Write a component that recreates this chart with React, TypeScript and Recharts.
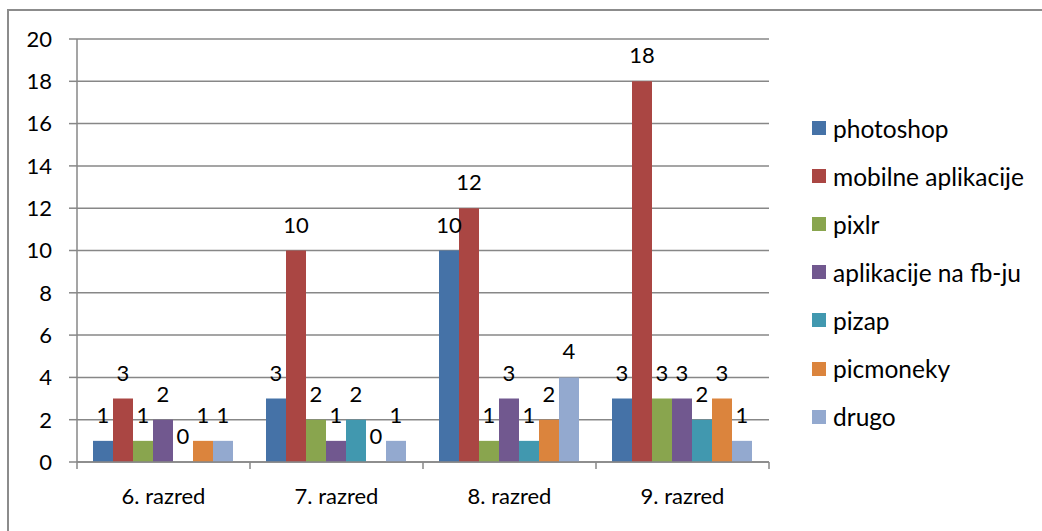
import { BarChart, Bar, XAxis, YAxis, CartesianGrid, Legend, LabelList } from "recharts"

const categories = ["6. razred", "7. razred", "8. razred", "9. razred"]
const photoshop = [1, 3, 10, 3]
const mobilneAplikacije = [3, 10, 12, 18]
const pixlr = [1, 2, 1, 3]
const aplikacijeFb = [2, 1, 3, 3]
const pizap = [0, 2, 1, 2]
const picmoneky = [1, 0, 2, 3]
const drugo = [1, 1, 4, 1]
const yTicks = [0, 2, 4, 6, 8, 10, 12, 14, 16, 18, 20]

const series = [
    { key: "photoshop", name: "photoshop", values: photoshop, color: "#4572A7" },
    { key: "mobilne", name: "mobilne aplikacije", values: mobilneAplikacije, color: "#AA4643" },
    { key: "pixlr", name: "pixlr", values: pixlr, color: "#89A54E" },
    { key: "fb", name: "aplikacije na fb-ju", values: aplikacijeFb, color: "#71588F" },
    { key: "pizap", name: "pizap", values: pizap, color: "#4198AF" },
    { key: "picmoneky", name: "picmoneky", values: picmoneky, color: "#DB843D" },
    { key: "drugo", name: "drugo", values: drugo, color: "#93A9CF" },
]

const data = categories.map((name, i) => {
    const row: Record<string, string | number> = { name }
    series.forEach((s) => { row[s.key] = s.values[i] })
    return row
})

const FONT = "Lato, 'Open Sans', sans-serif"
const AXIS = "#878787"

// category labels with Excel-style tick marks between categories
function CategoryTick(props: any) {
    const { x, y, payload, index, width } = props
    const half = width / categories.length / 2
    return (
        <g>
            <line x1={x - half} y1={y} x2={x - half} y2={y + 7} stroke={AXIS} strokeWidth={1.5} />
            {index === categories.length - 1 && (
                <line x1={x + half} y1={y} x2={x + half} y2={y + 7} stroke={AXIS} strokeWidth={1.5} />
            )}
            <text x={x} y={y + 42} textAnchor="middle" fill="#000" fontSize={22} fontFamily={FONT}>
                {payload.value}
            </text>
        </g>
    )
}

// value label above each bar (also for zero-height bars)
function ValueLabel(props: any) {
    const { x, y, width, value } = props
    if (value === undefined || value === null) return null
    return (
        <text x={Number(x) + Number(width) / 2} y={Number(y) - 18} textAnchor="middle" fill="#000" fontSize={22} fontFamily={FONT}>
            {value}
        </text>
    )
}

function LegendList() {
    return (
        <div style={{ fontFamily: FONT, fontSize: 24.5, color: "#000" }}>
            {series.map((s) => (
                <div key={s.key} style={{ height: 48.1, display: "flex", alignItems: "center" }}>
                    <span style={{ width: 14, height: 14, background: s.color, display: "inline-block", marginRight: 7 }} />
                    <span>{s.name}</span>
                </div>
            ))}
        </div>
    )
}

// a zero bar keeps a sub-pixel height so its "0" label is still placed
const zeroBarSize = (value: any) => (Number(value) === 0 ? 0.01 : 0)

export default function App() {
    return (
        <div style={{ position: "absolute", left: 0, top: 0, width: 1042, height: 531, background: "#fff", overflow: "hidden" }}>
            <div
                style={{
                    position: "absolute",
                    left: 7,
                    top: 9,
                    width: 1100,
                    height: 600,
                    borderTop: "2px solid #8c8c8c",
                    borderLeft: "2px solid #8c8c8c",
                    pointerEvents: "none",
                }}
            />
            <BarChart
                width={1042}
                height={531}
                data={data}
                margin={{ top: 39, right: 273, bottom: 0, left: 0 }}
                barCategoryGap={16}
                barGap={0}
                style={{ position: "absolute", left: 0, top: 0 }}
            >
                <CartesianGrid vertical={false} stroke={AXIS} strokeWidth={1.5} />
                <XAxis
                    dataKey="name"
                    height={69}
                    stroke={AXIS}
                    strokeWidth={1.5}
                    tickLine={false}
                    tickSize={0}
                    tickMargin={0}
                    interval={0}
                    tick={<CategoryTick />}
                />
                <YAxis
                    width={77}
                    domain={[0, 20]}
                    ticks={yTicks}
                    interval={0}
                    stroke={AXIS}
                    strokeWidth={1.5}
                    tickSize={8}
                    tickMargin={17}
                    tick={{ fill: "#000", fontSize: 22, fontFamily: FONT }}
                />
                <Legend
                    layout="vertical"
                    align="center"
                    verticalAlign="middle"
                    content={<LegendList />}
                    wrapperStyle={{ left: 812, top: 104, width: 230 }}
                />
                {series.map((s) => (
                    <Bar
                        key={s.key}
                        dataKey={s.key}
                        name={s.name}
                        fill={s.color}
                        minPointSize={zeroBarSize}
                        isAnimationActive={false}
                    >
                        <LabelList dataKey={s.key} content={<ValueLabel />} />
                    </Bar>
                ))}
            </BarChart>
        </div>
    )
}
